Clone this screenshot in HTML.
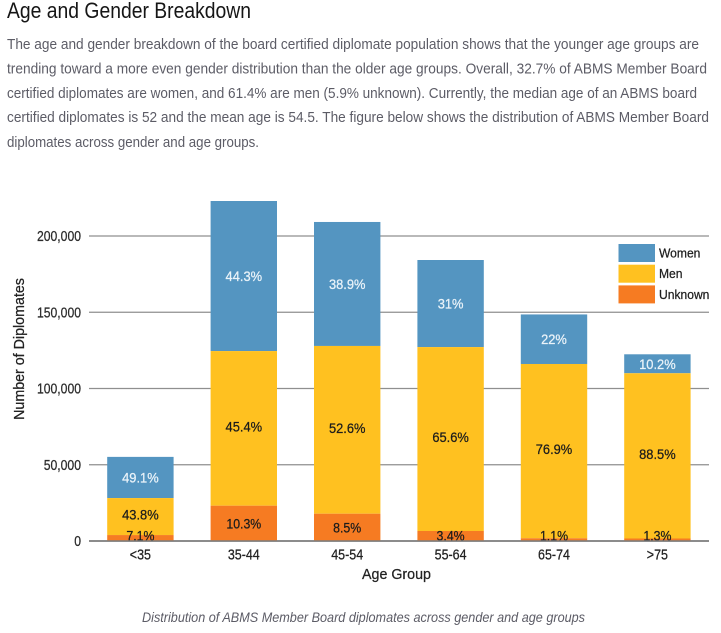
<!DOCTYPE html>
<html lang="en">
<head>
<meta charset="utf-8">
<title>Age and Gender Breakdown</title>
<style>
html,body{margin:0;padding:0;background:#fff;}
body{width:721px;height:633px;overflow:hidden;position:relative;font-family:"Liberation Sans",sans-serif;}
svg{position:absolute;left:0;top:0;display:block;}
</style>
</head>
<body>
<svg id="page-svg" width="721" height="633" viewBox="0 0 721 633">
  <text x="7" y="18" font-size="22" fill="#161616" textLength="244" lengthAdjust="spacingAndGlyphs">Age and Gender Breakdown</text>
  <g font-size="14.5" fill="#5c5c66">
    <text x="7" y="49" textLength="692" lengthAdjust="spacingAndGlyphs">The age and gender breakdown of the board certified diplomate population shows that the younger age groups are</text>
    <text x="7" y="73.5" textLength="700" lengthAdjust="spacingAndGlyphs">trending toward a more even gender distribution than the older age groups. Overall, 32.7% of ABMS Member Board</text>
    <text x="7" y="98" textLength="690" lengthAdjust="spacingAndGlyphs">certified diplomates are women, and 61.4% are men (5.9% unknown). Currently, the median age of an ABMS board</text>
    <text x="7" y="122" textLength="702" lengthAdjust="spacingAndGlyphs">certified diplomates is 52 and the mean age is 54.5. The figure below shows the distribution of ABMS Member Board</text>
    <text x="7" y="147" textLength="252" lengthAdjust="spacingAndGlyphs">diplomates across gender and age groups.</text>
  </g>
  <g id="chart"></g>
  <text x="142" y="622" font-size="14" font-style="italic" fill="#5c5c66" textLength="443" lengthAdjust="spacingAndGlyphs">Distribution of ABMS Member Board diplomates across gender and age groups</text>
</svg>
<script>
const categories = ["<35", "35-44", "45-54", "55-64", "65-74", ">75"];
const unknownValues = [3900, 23150, 17900, 6560, 1770, 1640];
const menValues = [24260, 101400, 110000, 120600, 114300, 108360];
const womenValues = [27000, 98400, 81300, 57100, 32500, 12430];
const unknownLabels = ["7.1%", "10.3%", "8.5%", "3.4%", "1.1%", "1.3%"];
const menLabels = ["43.8%", "45.4%", "52.6%", "65.6%", "76.9%", "88.5%"];
const womenLabels = ["49.1%", "44.3%", "38.9%", "31%", "22%", "10.2%"];
const yTicks = [0, 50000, 100000, 150000, 200000];
const seriesNames = ["Women", "Men", "Unknown"];

const NS = "http://www.w3.org/2000/svg";
const chart = document.getElementById("chart");
const plotLeft = 89, plotRight = 709, zeroY = 541;
const firstBarCenter = 140.4, bandStep = 103.4, barWidth = 66.4;
const pxPerUnit = 76.25 / 50000;
const colors = {Women: "#5495c1", Men: "#ffc120", Unknown: "#f67b22"};

function yScale(v) { return zeroY - v * pxPerUnit; }
function xCenter(i) { return firstBarCenter + i * bandStep; }

function svgEl(tag, attrs, parent) {
  const el = document.createElementNS(NS, tag);
  for (const k in attrs) el.setAttribute(k, attrs[k]);
  (parent || chart).appendChild(el);
  return el;
}
function addText(str, attrs, squeeze) {
  const t = svgEl("text", attrs);
  t.textContent = str;
  const len = t.getComputedTextLength();
  t.setAttribute("textLength", (len * squeeze).toFixed(1));
  t.setAttribute("lengthAdjust", "spacingAndGlyphs");
  t.setAttribute("stroke", attrs.fill);
  t.setAttribute("stroke-width", "0.25");
  return t;
}

yTicks.forEach(function (v) {
  const y = yScale(v);
  const line = svgEl("line", {x1: plotLeft, x2: plotRight, y1: y, y2: y, stroke: v === 0 ? "#7d7d7d" : "#8f8f8f", "stroke-width": v === 0 ? 1.6 : 1.3});
  
  
  const label = addText(v.toLocaleString("en-US"), {x: 81, y: y + 5, "text-anchor": "end", "font-size": 14.5, fill: "#2b2b2b"}, 0.84);
  
  
});

categories.forEach(function (cat, i) {
  const cx = xCenter(i);
  const x = cx - barWidth / 2;
  const u = unknownValues[i], m = menValues[i], w = womenValues[i];
  const yU = yScale(u), yM = yScale(u + m), yW = yScale(u + m + w);

  const rectW = svgEl("rect", {x: x, y: yW, width: barWidth, height: yM - yW, fill: colors.Women});
  
  
  const rectM = svgEl("rect", {x: x, y: yM, width: barWidth, height: yU - yM, fill: colors.Men});
  
  
  const rectU = svgEl("rect", {x: x, y: yU, width: barWidth, height: zeroY - yU, fill: colors.Unknown});
  
  

  const lw = addText(womenLabels[i], {x: cx, y: (yW + yM) / 2 + 5, "text-anchor": "middle", "font-size": 14, fill: "#eaf3f9"}, 0.92);
  
  
  const lm = addText(menLabels[i], {x: cx, y: (yM + yU) / 2 + 3, "text-anchor": "middle", "font-size": 14, fill: "#1c1c1c"}, 0.92);
  
  
  const lu = addText(unknownLabels[i], {x: cx, y: Math.min((yU + zeroY) / 2 + 5, 540.5), "text-anchor": "middle", "font-size": 14, fill: "#1c1c1c"}, 0.88);
  
  

  const tick = addText(cat, {x: cx, y: 559.5, "text-anchor": "middle", "font-size": 14.5, fill: "#222"}, 0.86);
  
  
});

const axisBase = svgEl("line", {x1: plotLeft, x2: plotRight, y1: zeroY, y2: zeroY, stroke: "#7d7d7d", "stroke-width": 1.6});



seriesNames.forEach(function (name, i) {
  const y = 244 + i * 20.7;
  const swatch = svgEl("rect", {x: 618.5, y: y, width: 36.5, height: 18, fill: colors[name]});
  
  
  const label = addText(name, {x: 659, y: y + 13.5, "font-size": 13, fill: "#1e1e1e"}, 0.93);
  
  
});

const xTitle = addText("Age Group", {x: 396.5, y: 579, "text-anchor": "middle", "font-size": 15, fill: "#222"}, 0.95);



const yTitle = addText("Number of Diplomates", {x: 0, y: 0, "text-anchor": "middle", "font-size": 15, fill: "#222", transform: "translate(24 349) rotate(-90)"}, 0.95);


</script>
</body>
</html>
